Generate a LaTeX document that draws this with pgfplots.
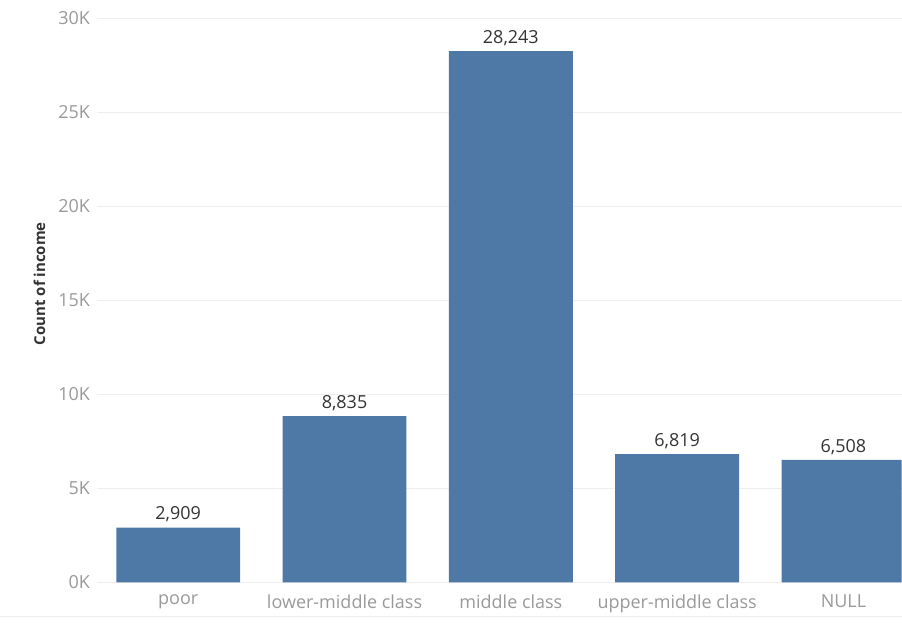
\documentclass[border=0pt]{standalone}
\usepackage{pgfplots}
\pgfplotsset{compat=1.18}
\usepackage{fontspec}
\setmainfont{Open Sans}
\definecolor{barblue}{HTML}{4E79A7}
\definecolor{gridgray}{HTML}{EEEEEE}
\definecolor{ticktext}{HTML}{999999}
\definecolor{labtext}{HTML}{333333}
\begin{document}
\begin{tikzpicture}[x=1pt,y=1pt]
\path (0,0) rectangle (902,623);
\draw[gridgray, line width=1pt] (0,6) -- (902,6);
\node[rotate=90, font=\fontsize{15}{17}\selectfont\bfseries, text=labtext] at (39,339) {Count of income};
\begin{axis}[
  at={(97pt,40pt)}, anchor=south west,
  scale only axis, width=805pt, height=565pt,
  xmin=-0.486, xmax=4.349, ymin=0, ymax=30000,
  axis line style={draw=none},
  ybar, bar width=124pt, bar shift=0pt,
  xtick={0,1,2,3,4},
  xticklabels={poor,lower-middle class,middle class,upper-middle class,NULL},
  ytick={0,5000,10000,15000,20000,25000,30000},
  yticklabels={0K,5K,10K,15K,20K,25K,30K},
  major tick length=0pt,
  ymajorgrids, grid style={gridgray, line width=0.8pt},
  yticklabel style={font=\fontsize{18}{20}\selectfont, text=ticktext, xshift=-4pt},
  xticklabel style={font=\fontsize{18}{20}\selectfont, text=ticktext, yshift=-9pt},
  scaled y ticks=false,
  nodes near coords,
  point meta=explicit symbolic,
  every node near coord/.style={font=\fontsize{18}{20}\selectfont, text=labtext, anchor=south, yshift=2pt},
  clip=true,
]
\addplot[fill=barblue, draw=none] table[meta=lab] {
x y lab
0 2909 {2,909}
1 8835 {8,835}
2 28243 {28,243}
3 6819 {6,819}
4 6508 {6,508}
};
\end{axis}
\end{tikzpicture}
\end{document}
